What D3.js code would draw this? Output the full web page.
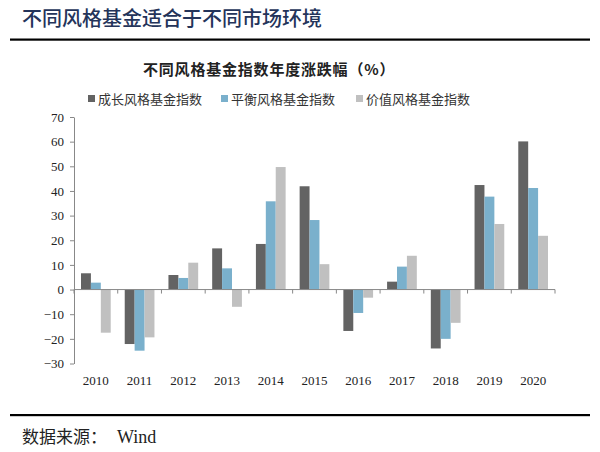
<!DOCTYPE html>
<html>
<head>
<meta charset="utf-8">
<script src="https://cdn.jsdelivr.net/npm/d3@7"></script>
<style>
body { margin: 0; background: #fff; }
svg text { font-family: "Liberation Serif", "Noto Sans CJK SC", serif; }
.cjk { font-family: "Noto Sans CJK SC", sans-serif; }
</style>
</head>
<body>
<svg id="chart" width="600" height="452"></svg>
<script>
var years = ["2010","2011","2012","2013","2014","2015","2016","2017","2018","2019","2020"];
var series_names = ["成长风格基金指数", "平衡风格基金指数", "价值风格基金指数"];
var growth = [6.6, -22.1, 5.9, 16.7, 18.5, 41.9, -16.8, 3.2, -23.9, 42.4, 60.1];
var balance = [2.8, -24.8, 4.7, 8.6, 35.8, 28.2, -9.5, 9.3, -20.0, 37.7, 41.2];
var value = [-17.5, -19.4, 10.9, -7.0, 49.7, 10.3, -3.3, 13.7, -13.5, 26.6, 21.8];
var y_ticks = [-30, -20, -10, 0, 10, 20, 30, 40, 50, 60, 70];
var colors = ["#636363", "#7ab0cc", "#c0c0c0"];

var svg = d3.select("#chart");
var all_series = [growth, balance, value];

// header
svg.append("text").attr("class", "cjk")
    .attr("x", 22).attr("y", 26)
    .attr("font-size", 20).attr("font-weight", 500).attr("fill", "#24345a")
    .text("不同风格基金适合于不同市场环境");
svg.append("rect").attr("x", 10).attr("y", 38.5).attr("width", 580).attr("height", 2.2).attr("fill", "#000");

svg.append("text").attr("class", "cjk")
    .attr("x", 143).attr("y", 75)
    .attr("letter-spacing", 0.8)
    .attr("font-size", 15).attr("font-weight", "bold").attr("fill", "#222")
    .text("不同风格基金指数年度涨跌幅（%）");

// legend
var legend_x = [88, 221, 356];
series_names.forEach(function (n, i) {
    var g = svg.append("g").attr("transform", "translate(" + legend_x[i] + ",100)");
    g.append("rect").attr("x", 0).attr("y", -5).attr("width", 7).attr("height", 7).attr("fill", colors[i]);
    g.append("text").attr("class", "cjk")
        .attr("x", 10).attr("y", 4)
        .attr("font-size", 13).attr("fill", "#333")
        .text(n);
});

// scales
var x = d3.scaleBand().domain(years).range([74, 555]).paddingInner(0).paddingOuter(0);
var y = d3.scaleLinear().domain([-30, 70]).range([363.5, 117]);
var inner = d3.scaleBand().domain([0, 1, 2]).range([7, x.bandwidth() - 7]);

// y axis
var yAxis = svg.append("g")
    .attr("transform", "translate(74,0)")
    .call(d3.axisLeft(y).tickValues(y_ticks).tickSize(4).tickSizeOuter(0).tickPadding(6));
yAxis.selectAll("path, line").attr("stroke", "#888");
yAxis.selectAll("text").attr("font-size", 13).attr("fill", "#222")
    .attr("font-family", "Liberation Serif");

// bars
all_series.forEach(function (s, i) {
    svg.append("g").selectAll("rect")
        .data(s)
        .join("rect")
            .attr("x", function (d, j) { return x(years[j]) + inner(i); })
            .attr("y", function (d) { return y(Math.max(0, d)); })
            .attr("width", inner.bandwidth())
            .attr("height", function (d) { return Math.abs(y(d) - y(0)); })
            .attr("fill", colors[i]);
});

// x axis at zero with ticks at category boundaries
var xg = svg.append("g").attr("transform", "translate(0," + y(0) + ")");
xg.append("line").attr("x1", 74).attr("x2", 555).attr("stroke", "#888");
xg.selectAll("line.tk")
    .data(years.concat(["end"]))
    .join("line").attr("class", "tk")
        .attr("x1", function (d, j) { return 74 + j * x.bandwidth(); })
        .attr("x2", function (d, j) { return 74 + j * x.bandwidth(); })
        .attr("y1", 0).attr("y2", 4)
        .attr("stroke", "#888");

svg.append("g").selectAll("text")
    .data(years)
    .join("text")
        .attr("x", function (d) { return x(d) + x.bandwidth() / 2; })
        .attr("y", 385)
        .attr("text-anchor", "middle")
        .attr("font-size", 13).attr("fill", "#222")
        .text(function (d) { return d; });

// footer
svg.append("rect").attr("x", 10).attr("y", 414).attr("width", 580).attr("height", 2.2).attr("fill", "#000");
svg.append("text").attr("class", "cjk")
    .attr("x", 22).attr("y", 443)
    .attr("font-size", 17).attr("fill", "#222")
    .text("数据来源：");
svg.append("text")
    .attr("x", 117).attr("y", 443)
    .attr("font-size", 18).attr("fill", "#222")
    .attr("font-family", "Liberation Serif")
    .text("Wind");
</script>
</body>
</html>
